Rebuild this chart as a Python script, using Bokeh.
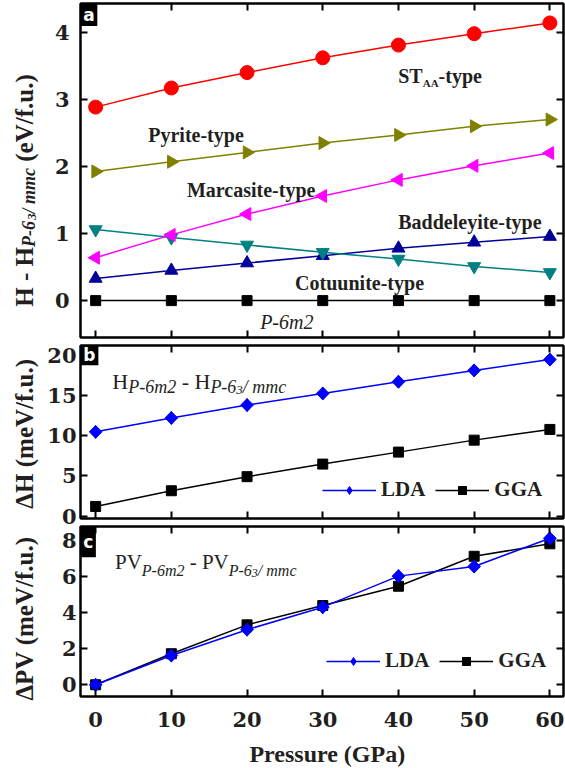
from math import pi
from bokeh.plotting import figure
from bokeh.models import (Range1d, LinearAxis, FixedTicker, Label, BoxAnnotation,
                          Legend, LegendItem)
from bokeh.layouts import column, row
from bokeh.embed import file_html
from bokeh.resources import INLINE

# ---------------- data ----------------
pressure = [0, 10, 20, 30, 40, 50, 60]
x_ticks = [0, 10, 20, 30, 40, 50, 60]

# panel a : H - H(P-63/mmc)  (eV/f.u.)
st_aa = [2.885, 3.17, 3.40, 3.62, 3.81, 3.98, 4.14]
pyrite = [1.925, 2.07, 2.21, 2.35, 2.47, 2.60, 2.70]
marcasite = [0.64, 0.98, 1.29, 1.56, 1.80, 2.01, 2.20]
cotuunite = [1.06, 0.94, 0.83, 0.72, 0.62, 0.51, 0.42]
baddeleyite = [0.33, 0.45, 0.56, 0.67, 0.78, 0.87, 0.955]
p6m2 = [0, 0, 0, 0, 0, 0, 0]
a_ticks = [0, 1, 2, 3, 4]

# panel b : dH (meV/f.u.)
lda_dh = [10.47, 12.2, 13.8, 15.24, 16.7, 18.1, 19.45]
gga_dh = [1.2, 3.15, 4.9, 6.46, 7.95, 9.44, 10.77]
b_ticks = [0, 5, 10, 15, 20]

# panel c : dPV (meV/f.u.)
lda_dpv = [0, 1.62, 3.05, 4.30, 6.02, 6.55, 8.12]
gga_dpv = [0, 1.72, 3.32, 4.39, 5.46, 7.12, 7.81]
c_ticks = [0, 2, 4, 6, 8]

# ---------------- style ----------------
TXT = "#231f20"
SERIF = "Liberation Serif"
TICKFONT = "DejaVu Serif"
NB = "\u00a0"
PAGE_W, PAGE_H = 565, 768
LW = 42                 # width of the y-title strip
W = PAGE_W - LW         # width of each panel figure
FL, FR = 80 - LW, 2
X0, X1 = -2, 61.8
PX_X = (W - FL - FR) / (X1 - X0)

BOLD = {' ': 250, NB: 250, '-': 333, '(': 333, ')': 333, '/': 278, '.': 250, 'H': 778,
        'P': 611, 'V': 722, 'S': 556, 'T': 667, 'A': 722, 'e': 444, 'f': 333, 'u': 556,
        'm': 833, 'c': 444, 't': 333, 'y': 500, 'p': 556, '\u0394': 650}
BOLDIT = {' ': 250, NB: 250, '-': 333, '/': 278, 'P': 667, 'm': 778, 'c': 444}
ITAL = {' ': 250, NB: 250, '-': 333, '/': 278, 'P': 611, 'm': 722, 'c': 444}
REG = {' ': 250, NB: 250, '-': 333, 'H': 722, 'P': 556, 'V': 722}


def tw(s, table, size):
    return sum(table.get(ch, 500) for ch in s) * size / 1000.0


def style_axis(ax, ticks, labels, standoff=5):
    ax.ticker = FixedTicker(ticks=ticks, minor_ticks=[])
    ax.axis_line_width = 2
    ax.axis_line_color = "black"
    ax.major_tick_in = 7
    ax.major_tick_out = 0
    ax.major_tick_line_width = 2
    ax.major_tick_line_color = "black"
    ax.minor_tick_in = 0
    ax.minor_tick_out = 0
    ax.major_label_standoff = standoff
    if labels:
        ax.major_label_text_font = TICKFONT
        ax.major_label_text_font_style = "bold"
        ax.major_label_text_font_size = "21px"
        ax.major_label_text_color = TXT
    else:
        ax.major_label_text_font_size = "1px"
        ax.major_label_text_color = None
        ax.major_label_standoff = 0


def make_fig(height, top, bottom, y0, y1, yticks, ystand, xlabels=False):
    p = figure(width=W, height=height, x_range=Range1d(X0, X1), y_range=Range1d(y0, y1),
               output_backend="svg", toolbar_location=None,
               x_axis_location=None, y_axis_location=None,
               min_border_left=FL, min_border_right=FR,
               min_border_top=top, min_border_bottom=bottom)
    p.grid.visible = False
    p.outline_line_color = "black"
    p.outline_line_width = 2
    left = LinearAxis()
    style_axis(left, yticks, True, ystand)
    p.add_layout(left, "left")
    right = LinearAxis()
    style_axis(right, yticks, False)
    p.add_layout(right, "right")
    top_ax = LinearAxis()
    style_axis(top_ax, x_ticks, False)
    p.add_layout(top_ax, "above")
    bot = LinearAxis()
    style_axis(bot, x_ticks, xlabels, 15)
    p.add_layout(bot, "below")
    return p


def series(p, y, color, marker, size, angle=0.0, lw=1.5):
    r1 = p.line(pressure, y, line_color=color, line_width=lw)
    r2 = p.scatter(pressure, y, marker=marker, size=size, angle=angle,
                   fill_color=color, line_color=color)
    return r1, r2


def diamonds(p, y, color):
    # a true diamond (square turned by 45 deg) over a slim diamond used by the legend
    r_leg = p.scatter(pressure, y, marker="diamond", size=13, fill_color=color, line_color=color)
    r_line = p.line(pressure, y, line_color=color, line_width=1.5)
    p.scatter(pressure, y, marker="square", size=9, angle=pi / 4, fill_color=color,
              line_color=color)
    return r_line, r_leg


def hpieces(p, x0, y0, pieces, px_y):
    x = x0
    for text, size, style, dy, table in pieces:
        p.add_layout(Label(x=x, y=y0 - dy / px_y, text=text, text_font=SERIF,
                           text_font_size=f"{size}px", text_font_style=style,
                           text_color=TXT, text_align="left", text_baseline="alphabetic"))
        x += tw(text, table, size) / PX_X


def panel_tag(p, letter, right, bottom, top):
    p.add_layout(BoxAnnotation(left=X0, right=right, bottom=bottom, top=top,
                               fill_color="black", fill_alpha=1.0, line_color=None))
    p.add_layout(Label(x=(X0 + right) / 2.0, y=(bottom + top) / 2.0, text=letter,
                       text_font="DejaVu Sans", text_font_style="bold", text_font_size="17px",
                       text_color="white", text_align="center", text_baseline="middle"))


def legend_for(p, items, loc):
    leg = Legend(items=[LegendItem(label=t, renderers=r) for t, r in items],
                 orientation="horizontal", location=loc, border_line_color=None,
                 background_fill_alpha=0, padding=0, margin=0, glyph_width=54,
                 glyph_height=20, label_standoff=5, spacing=10, label_height=20,
                 label_text_font=SERIF, label_text_font_style="bold",
                 label_text_font_size="21px", label_text_color=TXT)
    p.add_layout(leg)


# panel geometry (page px)
A_T, A_FH, A_B = 3, 334, 4
B_T, B_FH, B_B = 4, 173, 6
C_T, C_FH, C_B = 2, 170, 44
STRIP_H = A_T + A_FH + A_B + B_T + B_FH + B_B + C_T + C_FH + C_B
TITLE_H = PAGE_H - STRIP_H

# ---------------- panel a ----------------
A0, A1 = -0.55, 4.43
pa = make_fig(A_T + A_FH + A_B, A_T, A_B, A0, A1, a_ticks, 11)
PXA = A_FH / (A1 - A0)
series(pa, p6m2, "black", "square", 10)
series(pa, baddeleyite, "#000099", "triangle", 13)
series(pa, cotuunite, "#008080", "inverted_triangle", 13)
series(pa, marcasite, "#ff00ff", "triangle", 13, angle=pi / 2)
series(pa, pyrite, "#808000", "triangle", 13, angle=-pi / 2)
series(pa, st_aa, "#ff0000", "circle", 14)

for txt, xx, yy in [("Pyrite-type", 6.95, 2.466), ("Marcasite-type", 12.06, 1.655),
                    ("Baddeleyite-type", 39.97, 1.17), ("Cotuunite-type", 26.35, 0.259)]:
    pa.add_layout(Label(x=xx, y=yy, text=txt, text_font=SERIF, text_font_style="bold",
                        text_font_size="20px", text_color=TXT, text_align="left",
                        text_baseline="alphabetic"))
hpieces(pa, 39.97, 3.348, [("ST", 20, "bold", 0, BOLD), ("AA", 11, "bold", 7, BOLD),
                           ("-type", 20, "bold", 0, BOLD)], PXA)
hpieces(pa, 21.73, -0.324, [("P-6", 20, "italic", 0, ITAL), ("m", 20, "italic", 0, ITAL),
                            ("2", 20, "italic", 0, ITAL)], PXA)
panel_tag(pa, "a", 0.22, 4.095, A1)

# ---------------- panel b ----------------
B0, B1 = -0.3, 21.2
pb = make_fig(B_T + B_FH + B_B, B_T, B_B, B0, B1, b_ticks, 4)
PXB = B_FH / (B1 - B0)
bl2, bs2 = series(pb, gga_dh, "black", "square", 10)
bl1, bd1 = diamonds(pb, lda_dh, "#0000ff")
hpieces(pb, 2.2, 16.68, [("H", 22, "normal", 0, REG), ("P-6m2", 18, "italic", 5, ITAL),
                         (NB + "-" + NB + "H", 22, "normal", 0, REG),
                         ("P-6", 18, "italic", 5, ITAL),
                         ("3", 13, "italic", 8, ITAL), ("/" + NB + "mmc", 18, "italic", 5, ITAL)],
        PXB)
panel_tag(pb, "b", 0.36, 18.76, B1)
legend_for(pb, [("LDA", [bl1, bd1]), ("GGA", [bl2, bs2])], (242, 16))

# ---------------- panel c ----------------
C0, C1 = -0.65, 8.77
pc = make_fig(C_T + C_FH + C_B, C_T, C_B, C0, C1, c_ticks, 4, xlabels=True)
PXC = C_FH / (C1 - C0)
cl2, cs2 = series(pc, gga_dpv, "black", "square", 10)
cl1, cd1 = diamonds(pc, lda_dpv, "#0000ff")
hpieces(pc, 2.55, 6.79, [("PV", 21, "normal", 0, REG), ("P-6m2", 16, "italic", 8, ITAL),
                         (NB + "-" + NB + "PV", 21, "normal", 0, REG),
                         ("P-6", 16, "italic", 8, ITAL),
                         ("3", 12, "italic", 11, ITAL), ("/" + NB + "mmc", 16, "italic", 8, ITAL)],
        PXC)
panel_tag(pc, "c", 0.03, 7.07, C1)
legend_for(pc, [("LDA", [cl1, cd1]), ("GGA", [cl2, cs2])], (246, 23))

# ---------------- y-title strip ----------------
ys = figure(width=LW, height=STRIP_H, x_range=Range1d(0, LW), y_range=Range1d(0, STRIP_H),
            output_backend="svg", toolbar_location=None, x_axis_location=None,
            y_axis_location=None, min_border=0, outline_line_color=None)
ys.grid.visible = False

XB = 24  # anchor of rotated titles (px in strip)


def vtitle(center_page, pieces):
    total = sum(tw(t, tb, s) for t, s, st, d, tb in pieces)
    y = (STRIP_H - center_page) - total / 2.0
    for text, size, style, dx, table in pieces:
        ys.add_layout(Label(x=XB + dx, y=y, text=text, text_font=SERIF, angle=pi / 2,
                            text_font_size=f"{size}px", text_font_style=style,
                            text_color=TXT, text_align="left", text_baseline="alphabetic"))
        y += tw(text, table, size)


vtitle(190, [("H" + NB + "-" + NB + "H", 25, "bold", 0, BOLD),
             ("P-6", 18, "bold italic", 4, BOLDIT),
             ("3", 13, "bold italic", 7, BOLDIT),
             ("/" + NB + "mmc", 18, "bold italic", 4, BOLDIT),
             (NB + "(eV/f.u.)", 25, "bold", 0, BOLD)])
vtitle(433, [("\u0394H" + NB + "(meV/f.u.)", 25, "bold", 0, BOLD)])
vtitle(618, [("\u0394PV" + NB + "(meV/f.u.)", 25, "bold", 0, BOLD)])

# ---------------- x-title strip ----------------
xt = figure(width=PAGE_W, height=TITLE_H, x_range=Range1d(0, PAGE_W),
            y_range=Range1d(0, TITLE_H), output_backend="svg", toolbar_location=None,
            x_axis_location=None, y_axis_location=None, min_border=0,
            outline_line_color=None)
xt.grid.visible = False
xt.add_layout(Label(x=LW + FL + (30.6 - X0) * PX_X, y=TITLE_H - 13, text="Pressure (GPa)",
                    text_font=SERIF, text_font_style="bold", text_font_size="24px",
                    text_color=TXT, text_align="center", text_baseline="middle"))

layout = column(row(ys, column(pa, pb, pc, spacing=0), spacing=0), xt, spacing=0)
open("out.html", "w").write(file_html(layout, INLINE))
